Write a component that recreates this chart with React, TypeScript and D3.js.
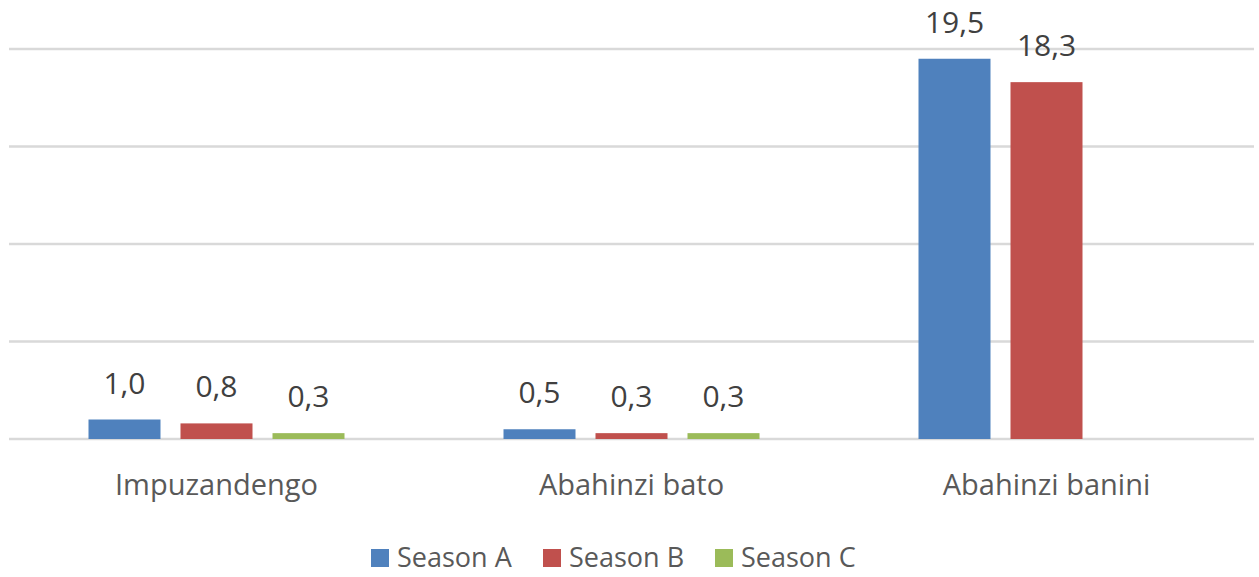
import React, { useRef, useEffect } from "react";
import * as d3 from "d3";

const categories = ["Impuzandengo", "Abahinzi bato", "Abahinzi banini"];
const seriesNames = ["Season A", "Season B", "Season C"];
const seasonA = [1.0, 0.5, 19.5];
const seasonB = [0.8, 0.3, 18.3];
const seasonC: (number | null)[] = [0.3, 0.3, null];
const yTicks = [0, 5, 10, 15, 20];
const colors = ["#4f81bd", "#c0504d", "#9bbb59"];

const App = () => {
  const svgRef = useRef<SVGSVGElement>(null);

  useEffect(() => {
    const width = 1259;
    const height = 577;
    const svg = d3.select(svgRef.current).attr("width", width).attr("height", height);
    svg.selectAll("*").remove();

    const font = "'Open Sans', sans-serif";
    const textColor = "#595959";
    const series = [seasonA, seasonB, seasonC];

    const y = d3.scaleLinear().domain([0, 20]).range([439, 49]);
    const x0 = d3.scaleBand().domain(categories).range([9, 1254]);
    const groupWidth = 256;
    const x1 = d3.scaleBand()
      .domain(seriesNames)
      .range([0, groupWidth])
      .paddingInner(20 / 92);

    // gridlines
    svg.append("g")
      .selectAll("line")
      .data(yTicks)
      .enter()
      .append("line")
      .attr("x1", 9)
      .attr("x2", 1254)
      .attr("y1", d => y(d))
      .attr("y2", d => y(d))
      .attr("stroke", "#d9d9d9")
      .attr("stroke-width", 2.5);

    const groups = svg.append("g")
      .selectAll("g")
      .data(categories)
      .enter()
      .append("g")
      .attr("transform", d => "translate(" + (x0(d)! + x0.bandwidth() / 2 - groupWidth / 2) + ",0)");

    groups.each(function (cat, ci) {
      const g = d3.select(this);
      seriesNames.forEach((s, si) => {
        const v = series[si][ci];
        if (v == null) return;
        const bx = x1(s)!;
        g.append("rect")
          .attr("x", bx)
          .attr("y", y(v))
          .attr("width", x1.bandwidth())
          .attr("height", y(0) - y(v))
          .attr("fill", colors[si]);
        g.append("text")
          .attr("x", bx + x1.bandwidth() / 2)
          .attr("y", y(v) - 26)
          .attr("text-anchor", "middle")
          .attr("font-family", font)
          .attr("font-size", 30)
          .attr("fill", "#404040")
          .text(v.toFixed(1).replace(".", ","));
      });
    });

    // category labels
    svg.append("g")
      .selectAll("text")
      .data(categories)
      .enter()
      .append("text")
      .attr("x", d => x0(d)! + x0.bandwidth() / 2)
      .attr("y", 495)
      .attr("text-anchor", "middle")
      .attr("font-family", font)
      .attr("font-size", 29)
      .attr("fill", textColor)
      .text(d => d);

    // legend
    const legendX = [371, 543, 715];
    const legend = svg.append("g")
      .selectAll("g")
      .data(seriesNames)
      .enter()
      .append("g")
      .attr("transform", (d, i) => "translate(" + legendX[i] + ",549)");
    legend.append("rect")
      .attr("width", 18)
      .attr("height", 18)
      .attr("fill", (d, i) => colors[i]);
    legend.append("text")
      .attr("x", 26)
      .attr("y", 18)
      .attr("font-family", font)
      .attr("font-size", 27)
      .attr("fill", textColor)
      .text(d => d);
  }, []);

  return <svg ref={svgRef} style={{ position: "absolute", left: 0, top: 0 }}></svg>;
};

export default App;
